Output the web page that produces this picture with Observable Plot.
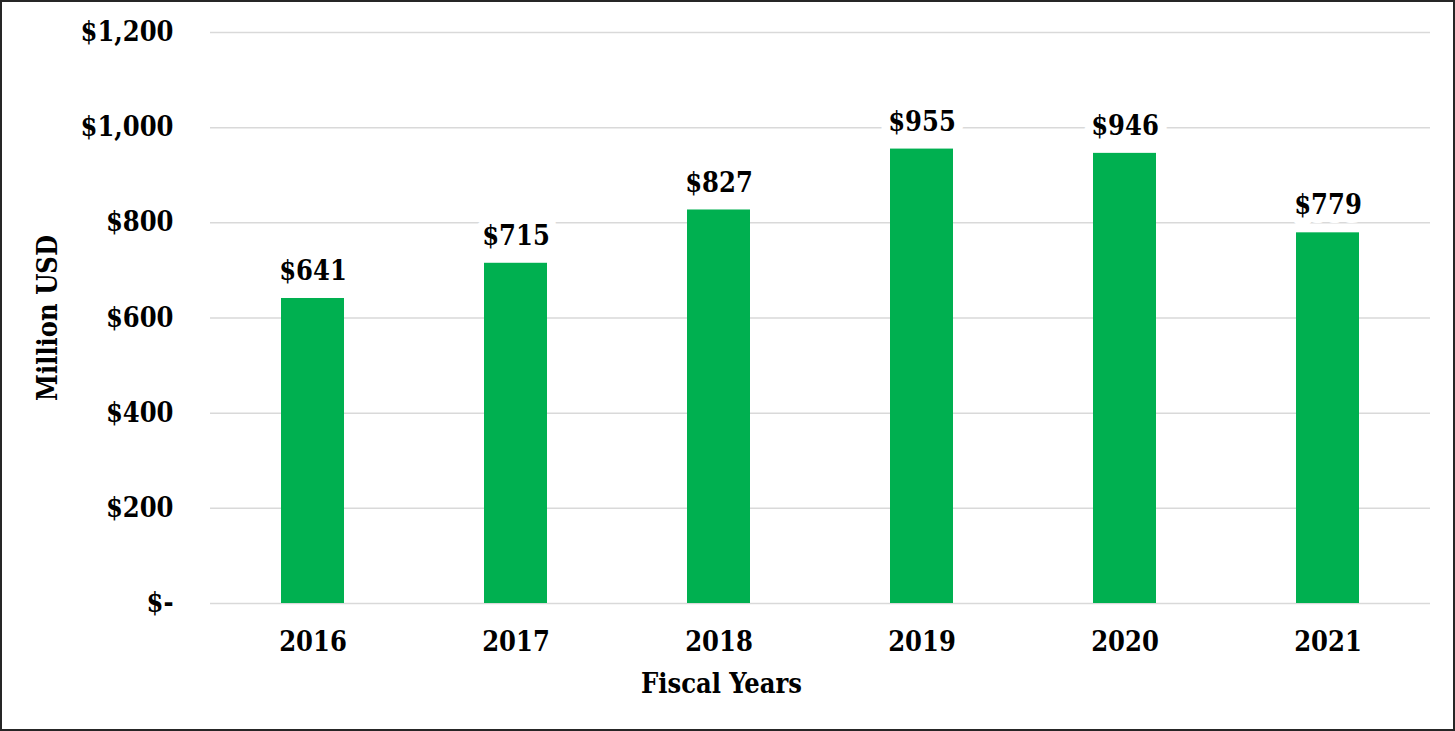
<!DOCTYPE html>
<html>
<head>
<meta charset="utf-8">
<script src="https://cdn.jsdelivr.net/npm/d3@7"></script>
<script src="https://cdn.jsdelivr.net/npm/@observablehq/plot@0.6"></script>
<style>
  html, body { margin: 0; padding: 0; background: #fff; }
  #frame { width: 1455px; height: 731px; box-sizing: border-box; border: 2px solid #262626; overflow: hidden; }
  #frame svg { display: block; font-stretch: condensed; }
</style>
</head>
<body>
<div id="frame"></div>
<script>
const years = ["2016", "2017", "2018", "2019", "2020", "2021"];
const values = [641, 715, 827, 955, 946, 779];
const yTicks = [0, 200, 400, 600, 800, 1000, 1200];
const yTickLabels = ["$-", "$200", "$400", "$600", "$800", "$1,000", "$1,200"];
const xTitle = ["Fiscal Years"];

const data = years.map((year, i) => ({year, value: values[i]}));
const FS = 27;

const chart = Plot.plot({
  width: 1451,
  height: 727,
  marginLeft: 208,
  marginRight: 23,
  marginTop: 30,
  marginBottom: 126,
  style: {fontFamily: "'DejaVu Serif', serif", fontWeight: "bold", fontSize: FS + "px", color: "#000", background: "#fff"},
  x: {domain: years, paddingInner: 0.69, paddingOuter: 0.345},
  y: {domain: [0, 1200]},
  marks: [
    Plot.gridY(yTicks, {stroke: "#d9d9d9", strokeOpacity: 1, strokeWidth: 1.5}),
    Plot.barY(data, {x: "year", y: "value", fill: "#00b050"}),
    Plot.text(data, {
      x: "year", y: "value", text: d => "$" + d.value, dy: -27,
      fill: "#000", stroke: "#fff", strokeWidth: 18, fontSize: FS, fontWeight: "bold"
    }),
    Plot.text(xTitle, {
      frameAnchor: "bottom", text: d => d, dx: -99, dy: 89,
      fill: "#000", fontSize: FS, fontWeight: "bold"
    }),
    Plot.axisX({
      tickSize: 0, tickPadding: 28, label: null, fontSize: FS, fontWeight: "bold"
    }),
    Plot.axisY(yTicks, {
      tickSize: 0, tickPadding: 37, tickFormat: (d) => yTickLabels[yTicks.indexOf(d)],
      label: "Million USD", labelAnchor: "center", labelArrow: "none", labelOffset: 173,
      fontSize: FS, fontWeight: "bold"
    })
  ]
});
document.getElementById("frame").appendChild(chart);
</script>
</body>
</html>
